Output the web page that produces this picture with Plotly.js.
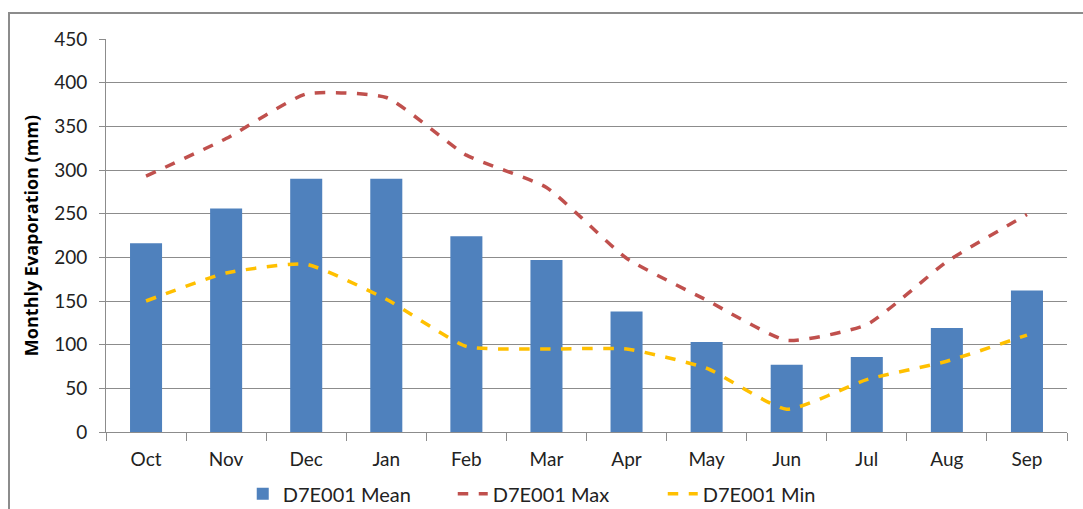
<!DOCTYPE html>
<html>
<head>
<meta charset="utf-8">
<script src="https://cdn.plot.ly/plotly-3.0.1.min.js"></script>
<style>
html,body{margin:0;padding:0;background:#fff;}
#wrap{position:relative;width:1083px;height:509px;}
#chart{width:1083px;height:509px;}
#frame{position:absolute;left:8px;top:12px;width:1100px;height:520px;border-left:2px solid #8c8c8c;border-top:2px solid #8c8c8c;pointer-events:none;}
</style>
</head>
<body>
<div id="wrap">
<div id="chart"></div>
<div id="frame"></div>
</div>
<script>
const months = ["Oct","Nov","Dec","Jan","Feb","Mar","Apr","May","Jun","Jul","Aug","Sep"];
const meanVals = [216, 256, 290, 290, 224, 197, 138, 103, 77, 86, 119, 162];
const maxVals  = [293, 336, 387, 383, 317, 280, 199, 151, 105, 123, 195, 249];
const minVals  = [150, 182, 192, 152, 98, 95, 95, 73, 26, 60, 81, 111];
const yTicks = [0, 50, 100, 150, 200, 250, 300, 350, 400, 450];

const font = "Lato, 'Open Sans', sans-serif";
const traces = [
  {type:"bar", name:"D7E001 Mean", x:months, y:meanVals, marker:{color:"#4F81BD"}},
  {type:"scatter", mode:"lines", name:"D7E001 Max", x:months, y:maxVals,
   line:{color:"#C0504D", width:3.5, dash:"dash", shape:"spline", smoothing:0.5}},
  {type:"scatter", mode:"lines", name:"D7E001 Min", x:months, y:minVals,
   line:{color:"#FFC000", width:3.5, dash:"dash", shape:"spline", smoothing:0.5}}
];
const layout = {
  width:1083, height:509,
  margin:{l:106, r:16, t:39, b:77, autoexpand:false},
  paper_bgcolor:"#fff", plot_bgcolor:"#fff",
  font:{family:font, size:19, color:"#222"},
  bargap:0.6,
  showlegend:true,
  legend:{orientation:"h", x:0.515, xref:"container", xanchor:"center", y:0.03, yref:"container", yanchor:"middle",
          font:{family:font, size:20, color:"#222"}, traceorder:"normal",
          entrywidth:165, entrywidthmode:"pixels"},
  xaxis:{type:"category", showgrid:false, showline:true, linecolor:"#8c8c8c", linewidth:1,
         ticks:"outside", tickson:"boundaries", ticklen:8, tickcolor:"#8c8c8c",
         ticklabelstandoff:10,
         tickfont:{family:font, size:19, color:"#222"}, fixedrange:true},
  yaxis:{range:[0,450], tickvals:yTicks, showgrid:true, gridcolor:"#8c8c8c", gridwidth:1,
         showline:true, linecolor:"#8c8c8c", ticks:"outside", ticklen:6, tickcolor:"#8c8c8c",
         ticklabelstandoff:8,
         zeroline:false, tickfont:{family:font, size:19, color:"#222"},
         title:{text:"Monthly Evaporation (mm)", font:{family:"'Open Sans', sans-serif", size:18, color:"#000", weight:"bold"}, standoff:10}}
};
Plotly.newPlot("chart", traces, layout, {displayModeBar:false, staticPlot:true});
</script>
</body>
</html>
